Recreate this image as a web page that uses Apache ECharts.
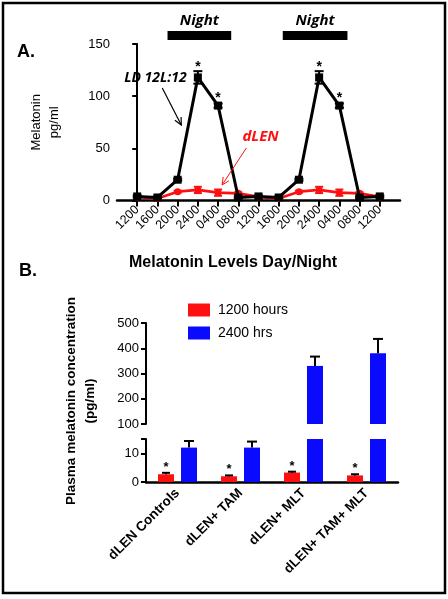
<!DOCTYPE html>
<html><head><meta charset="utf-8">
<script src="https://cdn.jsdelivr.net/npm/echarts@6/dist/echarts.min.js"></script>
<style>html,body{margin:0;padding:0;background:#fff}#c{width:448px;height:599px}</style>
</head><body><div id="c"></div>
<script>
// ---------- Panel A data ----------
var timeLabels = ['1200','1600','2000','2400','0400','0800','1200','1600','2000','2400','0400','0800','1200'];
var ldValues = [4, 3, 20, 118, 91, 3, 4, 3, 20, 118, 91, 3, 4];
var ldErrors = [1, 1, 1, 6, 2, 1, 1, 1, 1, 6, 2, 1, 1];
var ldSignificant = [0, 0, 0, 1, 1, 0, 0, 0, 0, 1, 1, 0, 0];
var dlenValues = [3.5, 2, 8.5, 10.2, 7.6, 7, 3.5, 2, 8.5, 10.2, 7.6, 7, 3.5];
var dlenErrors = [0.5, 0.5, 1, 3, 3, 1, 0.5, 0.5, 1, 3, 3, 1, 0.5];
var yTicksA = [0, 50, 100, 150];
var nightSpans = [[1.5, 4.65], [7.2, 10.4]];

// ---------- Panel B data ----------
var groups = ['dLEN Controls', 'dLEN+ TAM', 'dLEN+ MLT', 'dLEN+ TAM+ MLT'];
var noonValues = [2.7, 2.0, 3.3, 2.3];
var noonErrors = [0.5, 0.3, 0.3, 0.4];
var noonSignificant = [1, 1, 1, 1];
var midnightValues = [12, 12, 330, 380];
var midnightErrors = [2.3, 2.1, 37, 57];
var yTicksBUpper = [100, 200, 300, 400, 500];
var yTicksBLower = [0, 10];

var FONT = 'Liberation Sans';
var RED = '#ff1010', BLUE = '#0a0aff';
var BAR_W = 16, BAR_GAP_PX = 7;

var chart = echarts.init(document.getElementById('c'), null, {renderer: 'canvas'});

var xIdx = timeLabels.map(function (_, i) { return i; });

function errorSeriesA(values, errors, color, capW, lw, z) {
  return {
    type: 'custom', xAxisIndex: 0, yAxisIndex: 0, z: z, silent: true,
    data: values.map(function (v, i) { return [i, v, errors[i]]; }),
    renderItem: function (params, api) {
      var x = api.value(0), v = api.value(1), e = api.value(2);
      var t = api.coord([x, v + e]), b = api.coord([x, Math.max(0, v - e)]);
      var st = {stroke: color, lineWidth: lw};
      return {type: 'group', children: [
        {type: 'line', shape: {x1: t[0], y1: t[1], x2: b[0], y2: b[1]}, style: st},
        {type: 'line', shape: {x1: t[0] - capW / 2, y1: t[1], x2: t[0] + capW / 2, y2: t[1]}, style: st},
        {type: 'line', shape: {x1: b[0] - capW / 2, y1: b[1], x2: b[0] + capW / 2, y2: b[1]}, style: st}
      ]};
    }
  };
}

function errorSeriesB(values, errors, side, gridIdx, filter) {
  var data = [];
  values.forEach(function (v, i) { if (filter(v, errors[i])) data.push([i, v, errors[i]]); });
  return {
    type: 'custom', xAxisIndex: gridIdx, yAxisIndex: gridIdx, z: 5, silent: true,
    data: data,
    renderItem: function (params, api) {
      var x = api.value(0), v = api.value(1), e = api.value(2);
      var off = side * (BAR_W + BAR_GAP_PX) / 2;
      var t = api.coord([x, v + e]), b = api.coord([x, v]);
      var st = {stroke: '#000', lineWidth: 2};
      var cap = side < 0 ? 8 : 10;
      return {type: 'group', children: [
        {type: 'line', shape: {x1: t[0] + off, y1: t[1], x2: b[0] + off, y2: b[1]}, style: st},
        {type: 'line', shape: {x1: t[0] + off - cap / 2, y1: t[1], x2: t[0] + off + cap / 2, y2: t[1]}, style: st}
      ]};
    }
  };
}

var axisLineStyle = {color: '#000', width: 2};

var option = {
  animation: false,
  backgroundColor: '#fff',
  textStyle: {fontFamily: FONT},
  legend: {
    left: 183, top: 298, orient: 'vertical', itemWidth: 22, itemHeight: 13, itemGap: 9,
    icon: 'rect', data: ['1200 hours', '2400 hrs'],
    textStyle: {fontSize: 14, color: '#000', fontFamily: FONT, padding: [0, 0, 0, 3]}
  },
  grid: [
    {left: 117, right: 48, top: 44, height: 156.6},
    {left: 146, right: 50, top: 323, height: 101},
    {left: 146, right: 50, top: 439, height: 43}
  ],
  xAxis: [
    {
      gridIndex: 0, type: 'value', min: -1, max: 13,
      splitLine: {show: false},
      axisLine: {lineStyle: {color: '#000', width: 2.5}},
      axisTick: {customValues: xIdx, length: 6, lineStyle: {color: '#000', width: 2}},
      axisLabel: {customValues: xIdx, rotate: 45, margin: 7, fontSize: 12.5, color: '#000',
        formatter: function (v) { return timeLabels[Math.round(v)]; }}
    },
    {gridIndex: 1, type: 'category', data: groups, show: false},
    {
      gridIndex: 2, type: 'category', data: groups,
      axisLine: {lineStyle: {color: '#000', width: 2.5}},
      axisTick: {alignWithLabel: true, length: 6, lineStyle: {color: '#000', width: 2}},
      axisLabel: {rotate: 45, margin: 9, fontSize: 13.5, fontWeight: 'bold', color: '#000', interval: 0}
    }
  ],
  yAxis: [
    {
      gridIndex: 0, type: 'value', min: 0, max: 150, interval: 50,
      splitLine: {show: false},
      axisLine: {show: true, lineStyle: axisLineStyle},
      axisTick: {show: true, customValues: yTicksA, length: 5, lineStyle: {color: '#000', width: 2}},
      axisLabel: {customValues: yTicksA, fontSize: 13, color: '#000', margin: 7},
      name: 'Melatonin\npg/ml', nameLocation: 'middle', nameRotate: 90, nameGap: 54,
      nameTextStyle: {fontSize: 13, color: '#000', lineHeight: 18, fontFamily: FONT}
    },
    {
      gridIndex: 1, type: 'value', min: 100, max: 500, interval: 100,
      splitLine: {show: false},
      axisLine: {show: true, lineStyle: axisLineStyle},
      axisTick: {show: true, customValues: yTicksBUpper, length: 5, lineStyle: {color: '#000', width: 2}},
      axisLabel: {customValues: yTicksBUpper, fontSize: 13, color: '#000', margin: 7}
    },
    {
      gridIndex: 2, type: 'value', min: 0, max: 15,
      splitLine: {show: false},
      axisLine: {show: true, lineStyle: axisLineStyle},
      axisTick: {show: true, customValues: [0, 10, 15], length: 5, lineStyle: {color: '#000', width: 2}},
      axisLabel: {customValues: yTicksBLower, fontSize: 13, color: '#000', margin: 7}
    }
  ],
  series: [
    errorSeriesA(dlenValues, dlenErrors, RED, 8, 2, 2),
    {
      name: 'dLEN', type: 'line', xAxisIndex: 0, yAxisIndex: 0, z: 3,
      data: dlenValues.map(function (v, i) { return [i, v]; }),
      symbol: 'circle', symbolSize: 7,
      lineStyle: {color: RED, width: 2.8}, itemStyle: {color: RED}
    },
    errorSeriesA(ldValues, ldErrors, '#000', 9, 2, 4),
    {
      name: 'LD 12L:12', type: 'line', xAxisIndex: 0, yAxisIndex: 0, z: 5,
      data: ldValues.map(function (v, i) {
        var item = {value: [i, v]};
        if (ldSignificant[i]) item.label = {show: true, position: 'top', distance: -5 + ldErrors[i] * 0.7, formatter: '*', fontSize: 14, fontWeight: 'bold', color: '#000'};
        return item;
      }),
      symbol: 'rect', symbolSize: 8,
      lineStyle: {color: '#000', width: 3}, itemStyle: {color: '#000'}
    },
    // Panel B upper (broken axis top part)
    {name: '1200 hours', type: 'bar', xAxisIndex: 1, yAxisIndex: 1, data: noonValues,
      barWidth: BAR_W, barGap: (BAR_GAP_PX / BAR_W * 100) + '%', itemStyle: {color: RED}},
    {name: '2400 hrs', type: 'bar', xAxisIndex: 1, yAxisIndex: 1, data: midnightValues,
      barWidth: BAR_W, itemStyle: {color: BLUE}},
    // Panel B lower
    {name: '1200 hours', type: 'bar', xAxisIndex: 2, yAxisIndex: 2,
      data: noonValues.map(function (v, i) {
        return {value: v, label: noonSignificant[i] ? {show: true, position: 'top', distance: 0, formatter: '*', fontSize: 13, fontWeight: 'bold', color: '#000'} : {show: false}};
      }),
      barWidth: BAR_W, barGap: (BAR_GAP_PX / BAR_W * 100) + '%', itemStyle: {color: RED}},
    {name: '2400 hrs', type: 'bar', xAxisIndex: 2, yAxisIndex: 2, data: midnightValues,
      barWidth: BAR_W, itemStyle: {color: BLUE}},
    errorSeriesB(noonValues, noonErrors, -1, 2, function (v, e) { return v + e <= 15; }),
    errorSeriesB(midnightValues, midnightErrors, 1, 2, function (v, e) { return v + e <= 15; }),
    errorSeriesB(midnightValues, midnightErrors, 1, 1, function (v, e) { return v >= 100; })
  ]
};
chart.setOption(option);

// ---------- annotations (placed in data coordinates of panel A) ----------
function P(x, y) { return chart.convertToPixel({gridIndex: 0}, [x, y]); }
function arrow(from, to, color, lw, head) {
  var a = P(from[0], from[1]), b = P(to[0], to[1]);
  var ang = Math.atan2(b[1] - a[1], b[0] - a[0]);
  var h1 = [b[0] - head * Math.cos(ang - 0.45), b[1] - head * Math.sin(ang - 0.45)];
  var h2 = [b[0] - head * Math.cos(ang + 0.45), b[1] - head * Math.sin(ang + 0.45)];
  return [
    {type: 'line', shape: {x1: a[0], y1: a[1], x2: b[0], y2: b[1]}, style: {stroke: color, lineWidth: lw}, z: 20},
    {type: 'polyline', shape: {points: [h1, b, h2]}, style: {stroke: color, lineWidth: lw, fill: null}, z: 20}
  ];
}
var g = [];
g.push({type: 'rect', shape: {x: 3, y: 3, width: 442, height: 590}, style: {fill: null, stroke: '#000', lineWidth: 2.5}, z: 50});
g.push({type: 'text', left: 17, top: 43, style: {text: 'A.', font: 'bold 18px ' + FONT, fill: '#000'}});
g.push({type: 'text', left: 19, top: 262, style: {text: 'B.', font: 'bold 18px ' + FONT, fill: '#000'}});
g.push({type: 'text', x: 233, y: 263, style: {text: 'Melatonin Levels Day/Night', font: 'bold 16px ' + FONT, fill: '#000', align: 'center', verticalAlign: 'middle'}});
g.push({type: 'text', x: 81, y: 401, rotation: Math.PI / 2,
  style: {text: 'Plasma melatonin concentration\n(pg/ml)', font: 'bold 13.5px ' + FONT, fill: '#000', align: 'center', verticalAlign: 'middle', lineHeight: 19}});
nightSpans.forEach(function (s) {
  var a = P(s[0], 162.4), b = P(s[1], 153.8);
  g.push({type: 'rect', shape: {x: a[0], y: a[1], width: b[0] - a[0], height: b[1] - a[1]}, style: {fill: '#000'}});
  var c = P((s[0] + s[1]) / 2, 172);
  g.push({type: 'text', x: c[0], y: c[1], style: {text: 'Night', font: 'italic bold 15px "Open Sans"', fill: '#000', align: 'center', verticalAlign: 'middle'}});
});
var ldPos = P(0.9, 117.4);
g.push({type: 'text', x: ldPos[0], y: ldPos[1], z: 20, style: {text: 'LD 12L:12', font: 'italic bold 14px "Open Sans"', fill: '#000', align: 'center', verticalAlign: 'middle'}});
var dPos = P(6.1, 61);
g.push({type: 'text', x: dPos[0], y: dPos[1], z: 20, style: {text: 'dLEN', font: 'italic bold 15px "Open Sans"', fill: RED, align: 'center', verticalAlign: 'middle'}});
g = g.concat(arrow([1.24, 107.9], [2.18, 72.4], '#000', 1.2, 8));
g = g.concat(arrow([5.4, 50.4], [4.2, 15], RED, 1, 8));
chart.setOption({graphic: g});
</script>
</body></html>
